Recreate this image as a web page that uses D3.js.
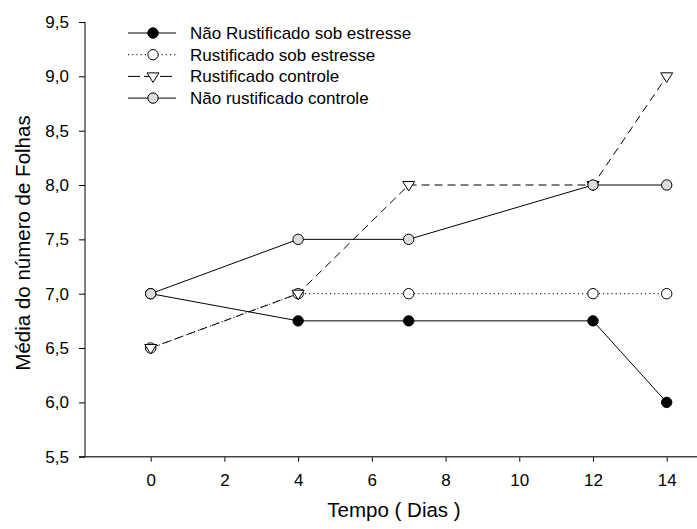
<!DOCTYPE html>
<html>
<head>
<meta charset="utf-8">
<script src="https://cdn.jsdelivr.net/npm/d3@7"></script>
<style>
  body { margin: 0; background: #fff; }
  svg { font-family: Arial, "Liberation Sans", sans-serif; }
</style>
</head>
<body>
<div id="chart"></div>
<script>
    "use strict";

    // days
    var dias = [0, 4, 7, 12, 14];

    var naoRustEstresse = [7.0, 6.75, 6.75, 6.75, 6.0];
    var rustEstresse = [6.5, 7.0, 7.0, 7.0, 7.0];
    var rustControle = [6.5, 7.0, 8.0, 8.0, 9.0];
    var naoRustControle = [7.0, 7.5, 7.5, 8.0, 8.0];

    var seriesNames = ["Não Rustificado sob estresse", "Rustificado sob estresse",
        "Rustificado controle", "Não rustificado controle"];

    var xTicks = [0, 2, 4, 6, 8, 10, 12, 14];
    var yTicks = [5.5, 6.0, 6.5, 7.0, 7.5, 8.0, 8.5, 9.0, 9.5];

    var width = 697;
    var height = 529;

    var x = d3.scaleLinear().domain([0, 14]).range([150.7, 666.7]);
    var y = d3.scaleLinear().domain([5.5, 9.5]).range([456.7, 22]);

    var svg = d3.select("#chart").append("svg")
        .attr("width", width)
        .attr("height", height);

    // axes
    var xAxis = svg.append("g")
        .attr("transform", "translate(0,456.7)")
        .call(d3.axisBottom(x).tickValues(xTicks).tickSize(5).tickPadding(12).tickFormat(d3.format("d")));
    xAxis.select(".domain").remove();
    xAxis.append("line")
        .attr("x1", 79).attr("x2", 697)
        .attr("stroke", "#444").attr("stroke-width", 1.5);

    var yAxis = svg.append("g")
        .attr("transform", "translate(85,0)")
        .call(d3.axisLeft(y).tickValues(yTicks).tickSize(6).tickPadding(10)
            .tickFormat(function (d) { return d3.format(".1f")(d).replace(".", ","); }));
    yAxis.select(".domain").remove();
    yAxis.append("line")
        .attr("y1", 22).attr("y2", 457)
        .attr("stroke", "#000").attr("stroke-width", 1);

    svg.selectAll(".tick text")
        .attr("font-size", 17)
        .attr("fill", "#000")
        .attr("font-family", "Arial, 'Liberation Sans', sans-serif");
    svg.selectAll(".tick line").attr("stroke", "#000");

    svg.append("text")
        .attr("x", 394).attr("y", 517)
        .attr("text-anchor", "middle")
        .attr("font-size", 20.5)
        .text("Tempo ( Dias )");

    svg.append("text")
        .attr("transform", "translate(30,243) rotate(-90)")
        .attr("text-anchor", "middle")
        .attr("font-size", 20.5)
        .text("Média do número de Folhas");

    var series = [
        { name: seriesNames[0], values: naoRustEstresse, dash: null, legDash: null, shape: "circle", fill: "#000" },
        { name: seriesNames[1], values: rustEstresse, dash: "1.2,3", legDash: "1.2,3", shape: "circle", fill: "#fff" },
        { name: seriesNames[2], values: rustControle, dash: "8,5", legDash: "12,4", shape: "triangle", fill: "#fff" },
        { name: seriesNames[3], values: naoRustControle, dash: null, legDash: null, shape: "circle", fill: "#dcdcdc" }
    ];

    var line = d3.line()
        .x(function (d) { return x(d[0]); })
        .y(function (d) { return y(d[1]); });

    var triPath = "M-6,-3.5L6,-3.5L0,6Z";

    function drawMarker(g, s, cx, cy) {
        if (s.shape === "circle") {
            g.append("circle")
                .attr("cx", cx).attr("cy", cy).attr("r", 5.2)
                .attr("fill", s.fill).attr("stroke", "#000").attr("stroke-width", 1);
        } else {
            g.append("path")
                .attr("d", triPath)
                .attr("transform", "translate(" + cx + "," + cy + ")")
                .attr("fill", s.fill).attr("stroke", "#000").attr("stroke-width", 1);
        }
    }

    series.forEach(function (s) {
        var pts = dias.map(function (d, i) { return [d, s.values[i]]; });
        var g = svg.append("g");
        g.append("path")
            .attr("d", line(pts))
            .attr("fill", "none")
            .attr("stroke", "#000")
            .attr("stroke-width", 1)
            .attr("stroke-dasharray", s.dash);
        pts.forEach(function (p) {
            drawMarker(g, s, x(p[0]), y(p[1]));
        });
    });

    // legend
    var legend = svg.append("g");
    series.forEach(function (s, i) {
        var ly = 33 + i * 21.7;
        var lg = legend.append("g");
        lg.append("line")
            .attr("x1", 128).attr("x2", 176)
            .attr("y1", ly).attr("y2", ly)
            .attr("stroke", "#000")
            .attr("stroke-width", 1)
            .attr("stroke-dasharray", s.legDash);
        drawMarker(lg, s, 153, ly);
        lg.append("text")
            .attr("x", 190).attr("y", ly + 6)
            .attr("font-size", 17)
            .text(s.name);
    });
</script>
</body>
</html>
